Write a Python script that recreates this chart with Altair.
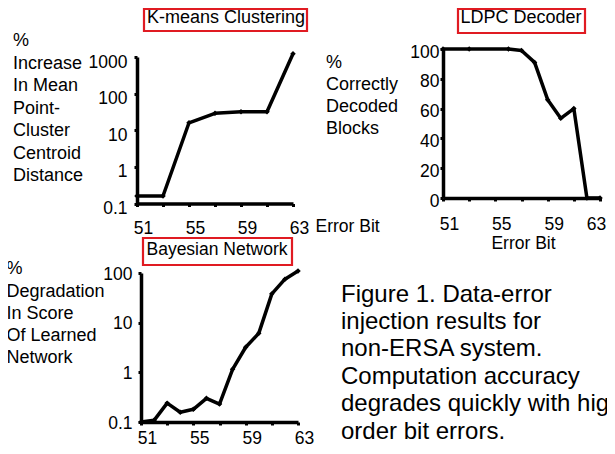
import altair as alt
import pandas as pd

FONT = "Liberation Sans"

# ---------------- data ----------------
kmeans_bits = [51, 53, 55, 57, 59, 61, 63]
kmeans_increase = [0.16, 0.16, 16, 29, 32, 32, 1230]

ldpc_bits = [51, 53, 56, 57, 58, 59, 60, 61, 62, 63]
ldpc_decoded = [100, 100, 100, 99, 91, 66, 53.5, 60, 0, 0]

bayes_bits = [51, 52, 53, 54, 55, 56, 57, 58, 59, 60, 61, 62, 63]
bayes_degradation = [0.1, 0.108, 0.24, 0.157, 0.18, 0.3, 0.23, 1.15, 3.2, 6.1, 38, 75, 110]

x_tick_values = [51, 53, 55, 57, 59, 61, 63]
kmeans_y_ticks = [0.1, 1, 10, 100, 1000]
ldpc_y_ticks = [0, 20, 40, 60, 80, 100]
bayes_y_ticks = [0.1, 1, 10, 100]

kmeans_title = "K-means Clustering"
ldpc_title = "LDPC Decoder"
bayes_title = "Bayesian Network"
kmeans_ylabel = ["%", "Increase", "In Mean", "Point-", "Cluster", "Centroid", "Distance"]
ldpc_ylabel = ["%", "Correctly", "Decoded", "Blocks"]
bayes_ylabel = ["%", "Degradation", "In Score", "Of Learned", "Network"]
x_title = "Error Bit"
caption = ["Figure 1. Data-error", "injection results for", "non-ERSA system.",
           "Computation accuracy", "degrades quickly with high", "order bit errors."]

W, H = 599, 438

kmeans_df = pd.DataFrame({"bit": kmeans_bits, "value": kmeans_increase})
ldpc_df = pd.DataFrame({"bit": ldpc_bits, "value": ldpc_decoded})
bayes_df = pd.DataFrame({"bit": bayes_bits, "value": bayes_degradation})


def x_axis(offset, pad, title=None, title_x=0, title_y=0, title_align="center", last_off=6):
    kw = dict(orient="bottom", offset=offset, values=x_tick_values,
              labelExpr="datum.value % 4 == 3 ? datum.label : ''",
              grid=False, domainColor="black", domainWidth=3.5,
              tickColor="black", tickWidth=3, tickSize=3,
              labelFont=FONT, labelFontSize=17.5, labelColor="black",
              labelPadding=pad,
              labelOffset=alt.condition("datum.value == 63", alt.value(last_off), alt.value(6)),
              labelFlush=False, labelOverlap=False)
    if title:
        kw.update(title=title, titleX=title_x, titleY=title_y, titleAlign=title_align,
                  titleBaseline="middle", titleAngle=0, titleFont=FONT, titleFontSize=17.5,
                  titleFontWeight="normal", titleColor="black")
    else:
        kw.update(title=None)
    return alt.Axis(**kw)


def y_axis(offset, pad, values, dy, fmt):
    return alt.Axis(orient="left", offset=offset, values=values, format=fmt,
                    grid=False, domainColor="black", domainWidth=3.5,
                    tickColor="black", tickWidth=3, tickSize=3,
                    labelFont=FONT, labelFontSize=17.5, labelColor="black",
                    labelPadding=pad, labelOffset=dy, labelFlush=False, labelOverlap=False,
                    title=None)


def panel(df, xrange, yscale, xax, yax):
    xs = alt.Scale(domain=[51, 63], range=xrange, nice=False, zero=False)
    line = alt.Chart(df).mark_line(color="black", strokeWidth=3.5, strokeJoin="round").encode(
        x=alt.X("bit:Q", scale=xs, axis=xax),
        y=alt.Y("value:Q", scale=yscale, axis=yax),
    )
    pts = alt.Chart(df).mark_point(shape="diamond", filled=True, color="black", size=30, opacity=1).encode(
        x=alt.X("bit:Q", scale=xs, axis=None),
        y=alt.Y("value:Q", scale=yscale, axis=None),
    )
    return [line, pts]


one = alt.Data(values=[{"a": 1}])


def label(lines, x, y, size, lh, align="left", baseline="alphabetic"):
    return alt.Chart(one).mark_text(text=lines, font=FONT, fontSize=size, lineHeight=lh,
                                    align=align, baseline=baseline, color="black").encode(
        x=alt.value(x), y=alt.value(y))


def box(x1, x2, y1, y2):
    return alt.Chart(one).mark_rect(filled=False, stroke="#e01b22", strokeWidth=2.2).encode(
        x=alt.value(x1), x2=alt.value(x2), y=alt.value(y1), y2=alt.value(y2))


layers = []
# K-means clustering (log scale)
layers += panel(
    kmeans_df, [129, 285],
    alt.Scale(type="log", domain=[0.1, 1000], range=[195.5, 49], nice=False),
    x_axis(195.5 - H, 13, x_title, 307, 23, "left"),
    y_axis(-129, 7, kmeans_y_ticks, 5, "~g"),
)
# LDPC decoder (linear)
layers += panel(
    ldpc_df, [435, 592],
    alt.Scale(domain=[0, 100], range=[190, 41], nice=False, zero=False),
    x_axis(190 - H, 14, x_title, 515, 45, "center", last_off=-4),
    y_axis(-435, 1, ldpc_y_ticks, 3, "d"),
)
# Bayesian network (log scale)
layers += panel(
    bayes_df, [133, 290],
    alt.Scale(type="log", domain=[0.1, 100], range=[414, 265], nice=False),
    x_axis(414 - H, 4),
    y_axis(-133, 6, bayes_y_ticks, 1, "~g"),
)

# titles with red boxes
layers += [
    box(136, 299, 1, 23), label(kmeans_title, 218, 10, 18, 20, "center", "middle"),
    box(450, 577, 1, 25), label(ldpc_title, 513, 10, 18, 20, "center", "middle"),
    box(135, 284, 230, 257), label(bayes_title, 209, 242, 17.5, 20, "center", "middle"),
]
# y-axis descriptions
layers += [
    label(kmeans_ylabel, 5, 38.4, 18, 22.5),
    label(ldpc_ylabel, 318, 60.4, 18, 22),
    label(bayes_ylabel, -1.5, 266.4, 18, 22.2),
]
# caption
layers += [label(caption, 333, 293.6, 24, 27.4)]

chart = alt.layer(*layers).resolve_scale(
    x="independent", y="independent"
).resolve_axis(
    x="independent", y="independent"
).properties(
    width=W, height=H, autosize=alt.AutoSizeParams(type="none"), padding=0,
    background="white",
).configure_view(strokeWidth=0)

chart.save("out.html", embed_options={"renderer": "svg", "actions": False})
